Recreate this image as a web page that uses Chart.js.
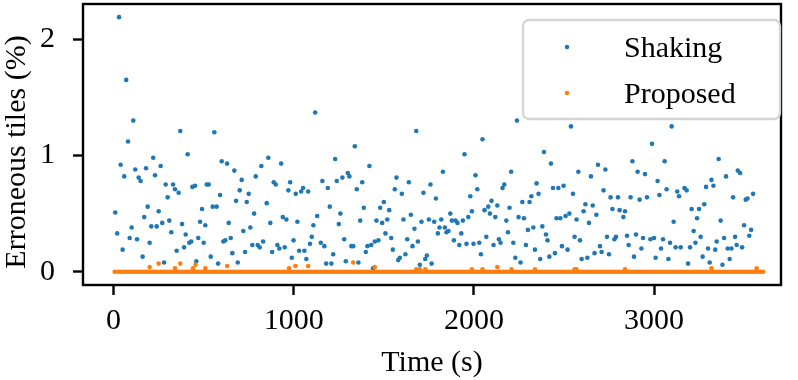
<!DOCTYPE html>
<html>
<head>
<meta charset="utf-8">
<script src="https://cdn.jsdelivr.net/npm/chart.js@4.4.1/dist/chart.umd.min.js"></script>
<style>
  html, body { margin: 0; padding: 0; background: #fff; }
  #wrap { width: 798px; height: 380px; }
</style>
</head>
<body>
<div id="wrap"><canvas id="errChart" width="798" height="380"></canvas></div>
<script>
// Shaking: time (s) and erroneous tiles (%)
const shakingTime = [
  9, 20, 30, 39, 50, 59, 70, 80, 89, 100, 109, 120, 130, 139, 150, 161, 170, 180, 189, 200,
  209, 220, 230, 239, 250, 261, 270, 280, 289, 300, 309, 320, 330, 341, 350, 361, 370, 380, 391, 400,
  411, 420, 431, 437, 452, 459, 470, 480, 491, 500, 509, 517, 528, 539, 550, 559, 572, 580, 591, 600,
  609, 620, 630, 639, 650, 659, 670, 680, 689, 700, 711, 720, 730, 739, 750, 759, 770, 780, 789, 800,
  811, 820, 830, 850, 859, 870, 880, 889, 900, 909, 920, 930, 939, 950, 959, 970, 980, 989, 999, 1011,
  1020, 1030, 1041, 1052, 1059, 1070, 1080, 1090, 1100, 1109, 1119, 1130, 1150, 1159, 1170, 1180, 1189, 1200, 1209, 1219,
  1230, 1239, 1250, 1259, 1270, 1280, 1289, 1300, 1309, 1320, 1330, 1339, 1350, 1359, 1369, 1380, 1389, 1400, 1409, 1420,
  1430, 1440, 1450, 1459, 1470, 1480, 1491, 1500, 1509, 1519, 1530, 1541, 1550, 1561, 1570, 1580, 1589, 1600, 1609, 1620,
  1630, 1639, 1650, 1659, 1670, 1680, 1689, 1700, 1709, 1720, 1730, 1739, 1750, 1759, 1765, 1780, 1789, 1800, 1809, 1819,
  1828, 1839, 1848, 1859, 1869, 1878, 1889, 1898, 1909, 1919, 1930, 1939, 1948, 1959, 1969, 1980, 1989, 1998, 2009, 2019,
  2030, 2039, 2048, 2059, 2069, 2080, 2089, 2098, 2109, 2119, 2130, 2139, 2148, 2159, 2169, 2180, 2189, 2198, 2207, 2219,
  2230, 2239, 2248, 2259, 2269, 2278, 2289, 2300, 2309, 2319, 2330, 2339, 2348, 2359, 2368, 2380, 2389, 2400, 2409, 2419,
  2428, 2439, 2450, 2459, 2469, 2480, 2489, 2498, 2509, 2520, 2530, 2539, 2550, 2559, 2570, 2580, 2589, 2598, 2609, 2619,
  2630, 2639, 2650, 2660, 2670, 2680, 2689, 2700, 2709, 2720, 2730, 2739, 2750, 2759, 2769, 2780, 2789, 2800, 2809, 2830,
  2839, 2850, 2859, 2870, 2880, 2889, 2900, 2909, 2920, 2930, 2939, 2950, 2961, 2980, 2989, 3000, 3009, 3020, 3030, 3039,
  3050, 3059, 3070, 3080, 3089, 3098, 3109, 3120, 3129, 3139, 3148, 3169, 3181, 3189, 3200, 3209, 3220, 3230, 3239, 3250,
  3259, 3270, 3279, 3289, 3300, 3309, 3319, 3330, 3340, 3348, 3359, 3370, 3380, 3389, 3400, 3409, 3420, 3430, 3439, 3450,
  3459, 3465, 3478, 3489, 3500, 3509, 3519, 3529, 3539, 3550
];
const shakingPct = [
  0.51, 0.33, 2.19, 0.92, 0.19, 0.82, 1.65, 1.12, 0.29, 0.38, 1.30, 0.88, 0.28, 0.81, 0.78, 0.13, 0.47, 0.89, 0.56, 0.25,
  0.39, 0.98, 0.83, 0.39, 0.52, 0.91, 0.42, 0.08, 0.75, 0.64, 0.44, 0.34, 0.75, 0.71, 0.18, 0.68, 1.21, 0.41, 0.21, 0.32,
  1.01, 0.25, 0.26, 0.73, 0.74, 0.09, 0.29, 0.43, 0.54, 0.25, 0.40, 0.75, 0.75, 0.13, 0.56, 1.20, 0.56, 0.07, 0.66, 0.95,
  0.26, 0.27, 0.93, 0.42, 0.29, 0.16, 0.87, 0.61, 0.08, 0.70, 0.79, 0.35, 0.17, 0.60, 0.67, 0.38, 0.23, 0.50, 0.82, 0.23,
  0.21, 0.91, 0.26, 0.59, 0.98, 0.42, 0.17, 0.77, 0.75, 0.23, 0.20, 0.93, 0.47, 0.21, 0.45, 0.70, 0.77, 0.12, 0.27, 0.67,
  0.43, 0.18, 0.69, 0.72, 0.18, 0.11, 0.69, 0.24, 0.30, 0.40, 1.37, 0.48, 0.25, 0.78, 0.22, 0.07, 0.72, 0.56, 0.07, 0.15,
  0.97, 0.78, 0.41, 0.50, 0.81, 0.28, 0.09, 0.85, 0.82, 0.22, 0.22, 1.08, 0.71, 0.08, 0.44, 0.77, 0.55, 0.17, 0.22, 0.91,
  0.23, 0.03, 0.26, 0.44, 0.27, 0.55, 0.42, 0.60, 0.33, 0.45, 0.53, 0.29, 0.19, 0.71, 0.81, 0.10, 0.12, 0.67, 0.45, 0.15,
  0.28, 0.77, 0.49, 0.22, 0.37, 1.21, 0.26, 0.06, 0.43, 0.68, 0.11, 0.14, 0.45, 0.75, 0.07, 0.43, 0.63, 0.33, 0.38, 0.45,
  0.86, 0.38, 0.34, 0.35, 0.50, 0.44, 0.27, 0.44, 0.42, 0.23, 0.33, 0.44, 1.01, 0.24, 0.47, 0.65, 0.52, 0.24, 0.83, 0.71,
  0.25, 0.15, 1.14, 0.53, 0.30, 0.56, 0.50, 0.61, 0.23, 0.47, 0.57, 0.28, 0.25, 0.72, 0.75, 0.44, 0.34, 0.55, 0.86, 0.25,
  0.12, 1.30, 0.47, 0.08, 0.60, 0.46, 0.23, 0.36, 0.60, 0.65, 0.38, 0.19, 0.76, 0.67, 0.11, 0.39, 1.03, 0.32, 0.27, 0.13,
  0.93, 0.72, 0.16, 0.46, 0.72, 0.46, 0.22, 0.74, 0.48, 0.19, 0.50, 1.25, 0.67, 0.30, 0.45, 0.86, 0.27, 0.11, 0.52, 0.58,
  0.12, 0.42, 0.82, 0.57, 0.16, 0.49, 0.92, 0.22, 0.17, 0.70, 0.88, 0.30, 0.15, 0.64, 0.54, 0.28, 0.30, 0.64, 0.53, 0.47,
  0.52, 0.31, 0.23, 0.64, 0.95, 0.13, 0.32, 0.86, 0.62, 0.20, 0.29, 0.84, 0.64, 0.28, 1.10, 0.29, 0.12, 0.78, 0.66, 0.20,
  0.28, 0.95, 0.71, 0.11, 0.25, 1.25, 0.43, 0.21, 0.69, 0.65, 0.21, 0.72, 0.70, 0.07, 0.21, 0.54, 0.35, 0.25, 0.46, 0.54,
  0.30, 0.13, 0.58, 0.73, 0.20, 0.08, 0.79, 0.74, 0.19, 0.26, 0.97, 0.44, 0.06, 0.29, 0.82, 0.20, 0.11, 0.20, 0.64, 0.30,
  0.23, 0.87, 0.85, 0.21, 0.40, 0.62, 0.63, 0.31, 0.36, 0.67
];

// Proposed: flat at 0 for the whole run, with a few small bumps
const proposedZeroTime = [
  6, 21, 36, 51, 66, 81, 96, 111, 126, 141, 156, 171, 186, 201, 216, 231, 246, 261, 276, 291,
  306, 321, 336, 351, 366, 381, 396, 411, 426, 441, 456, 471, 486, 501, 516, 531, 546, 561, 576, 591,
  606, 621, 636, 651, 666, 681, 696, 711, 726, 741, 756, 771, 786, 801, 816, 831, 846, 861, 876, 891,
  906, 921, 936, 951, 966, 981, 996, 1011, 1026, 1041, 1056, 1071, 1086, 1101, 1116, 1131, 1146, 1161, 1176, 1191,
  1206, 1221, 1236, 1251, 1266, 1281, 1296, 1311, 1326, 1341, 1356, 1371, 1386, 1401, 1416, 1431, 1446, 1461, 1476, 1491,
  1506, 1521, 1536, 1551, 1566, 1581, 1596, 1611, 1626, 1641, 1656, 1671, 1686, 1701, 1716, 1731, 1746, 1761, 1776, 1791,
  1806, 1821, 1836, 1851, 1866, 1881, 1896, 1911, 1926, 1941, 1956, 1971, 1986, 2001, 2016, 2031, 2046, 2061, 2076, 2091,
  2106, 2121, 2136, 2151, 2166, 2181, 2196, 2211, 2226, 2241, 2256, 2271, 2286, 2301, 2316, 2331, 2346, 2361, 2376, 2391,
  2406, 2421, 2436, 2451, 2466, 2481, 2496, 2511, 2526, 2541, 2556, 2571, 2586, 2601, 2616, 2631, 2646, 2661, 2676, 2691,
  2706, 2721, 2736, 2751, 2766, 2781, 2796, 2811, 2826, 2841, 2856, 2871, 2886, 2901, 2916, 2931, 2946, 2961, 2976, 2991,
  3006, 3021, 3036, 3051, 3066, 3081, 3096, 3111, 3126, 3141, 3156, 3171, 3186, 3201, 3216, 3231, 3246, 3261, 3276, 3291,
  3306, 3321, 3336, 3351, 3366, 3381, 3396, 3411, 3426, 3441, 3456, 3471, 3486, 3501, 3516, 3531, 3546, 3561, 3576, 3591,
  3606
];
const proposedBumpTime = [
  200, 250, 341, 370, 441, 455, 509, 630, 974, 1009, 1080, 1330, 1450, 1680, 1700, 1730,
  1989, 2048, 2130, 2209, 2339, 2559, 2570, 2839, 3319, 3570
];
const proposedBumpPct = [
  0.04, 0.07, 0.03, 0.07, 0.03, 0.06, 0.03, 0.05, 0.03, 0.05, 0.05, 0.08, 0.04, 0.02, 0.02, 0.02,
  0.02, 0.02, 0.04, 0.02, 0.02, 0.02, 0.02, 0.02, 0.03, 0.03
];

const seriesNames = ['Shaking', 'Proposed'];
const seriesColors = ['#1f77b4', '#ff7f0e'];
const xTickValues = [0, 1000, 2000, 3000];
const yTickValues = [0, 1, 2];
const xTitle = 'Time (s)';
const yTitle = 'Erroneous tiles (%)';

const serif = "'Liberation Serif', 'Times New Roman', Times, serif";
const axisFont = { family: serif, size: 30, lineHeight: 1 };

const shakingPoints = shakingTime.map((t, i) => ({ x: t, y: shakingPct[i] }));
const proposedPoints = proposedZeroTime.map(t => ({ x: t, y: 0 }))
  .concat(proposedBumpTime.map((t, i) => ({ x: t, y: proposedBumpPct[i] })));

// full black box around the plot area, like matplotlib spines
const frameBox = {
  id: 'frameBox',
  afterDatasetsDraw(chart) {
    const { ctx, chartArea: a } = chart;
    ctx.save();
    ctx.strokeStyle = '#000';
    ctx.lineWidth = 2.4;
    ctx.strokeRect(a.left, a.top, a.right - a.left, a.bottom - a.top);
    ctx.restore();
  }
};

// rotated y label, placed where the original has it
const yLabel = {
  id: 'yLabel',
  afterDraw(chart) {
    const ctx = chart.ctx;
    ctx.save();
    ctx.translate(25, 152);
    ctx.rotate(-Math.PI / 2);
    ctx.font = '30px ' + serif;
    ctx.fillStyle = '#000';
    ctx.textAlign = 'center';
    ctx.textBaseline = 'alphabetic';
    ctx.fillText(yTitle, 0, 0);
    ctx.restore();
  }
};

// legend drawn inside the plot, upper right
const insetLegend = {
  id: 'insetLegend',
  afterDraw(chart) {
    const { ctx, chartArea: a } = chart;
    const w = 257, h = 99, r = 6;
    const x = a.right - 1 - w, y = a.top + 16;
    ctx.save();
    ctx.beginPath();
    ctx.roundRect(x, y, w, h, r);
    ctx.fillStyle = 'rgba(255,255,255,0.8)';
    ctx.fill();
    ctx.lineWidth = 2.3;
    ctx.strokeStyle = '#d4d4d4';
    ctx.stroke();
    ctx.font = '30px ' + serif;
    ctx.textBaseline = 'alphabetic';
    ctx.textAlign = 'left';
    chart.data.datasets.forEach((ds, i) => {
      const cy = y + 27 + i * 46;
      ctx.beginPath();
      ctx.arc(x + 44, cy, 2.3, 0, Math.PI * 2);
      ctx.fillStyle = ds.backgroundColor;
      ctx.fill();
      ctx.fillStyle = '#000';
      ctx.fillText(ds.label, x + 101, cy + 10);
    });
    ctx.restore();
  }
};

const plainNumber = v => String(v);

new Chart(document.getElementById('errChart'), {
  type: 'scatter',
  data: {
    datasets: [
      { label: seriesNames[0], data: shakingPoints, backgroundColor: seriesColors[0], borderWidth: 0, pointRadius: 2.3, order: 1 },
      { label: seriesNames[1], data: proposedPoints, backgroundColor: seriesColors[1], borderWidth: 0, pointRadius: 2.3, order: 0 }
    ]
  },
  options: {
    responsive: false,
    animation: false,
    devicePixelRatio: 1,
    events: [],
    layout: { padding: { left: 0, right: 17, top: 2, bottom: 0 } },
    plugins: { legend: { display: false }, tooltip: { enabled: false } },
    scales: {
      x: {
        type: 'linear',
        min: -170,
        max: 3705,
        afterBuildTicks: s => { s.ticks = xTickValues.map(v => ({ value: v })); },
        afterFit: s => { s.height = 95; s.paddingLeft = 0; s.paddingRight = 0; },
        border: { display: false },
        grid: { drawOnChartArea: false, drawTicks: true, tickLength: 10, tickWidth: 2.4, tickColor: '#000' },
        ticks: { font: axisFont, color: '#000', padding: 11, maxRotation: 0, autoSkip: false, callback: plainNumber },
        title: { display: true, text: xTitle, font: axisFont, color: '#000', padding: { top: 0, bottom: 2 } }
      },
      y: {
        type: 'linear',
        min: -0.114,
        max: 2.303,
        afterBuildTicks: s => { s.ticks = yTickValues.map(v => ({ value: v })); },
        afterFit: s => { s.width = 83; s.paddingTop = 0; s.paddingBottom = 0; },
        border: { display: false },
        grid: { drawOnChartArea: false, drawTicks: true, tickLength: 10, tickWidth: 2.4, tickColor: '#000' },
        ticks: { font: axisFont, color: '#000', padding: 18, callback: plainNumber },
        title: { display: false }
      }
    }
  },
  plugins: [frameBox, yLabel, insetLegend]
});
</script>
</body>
</html>
